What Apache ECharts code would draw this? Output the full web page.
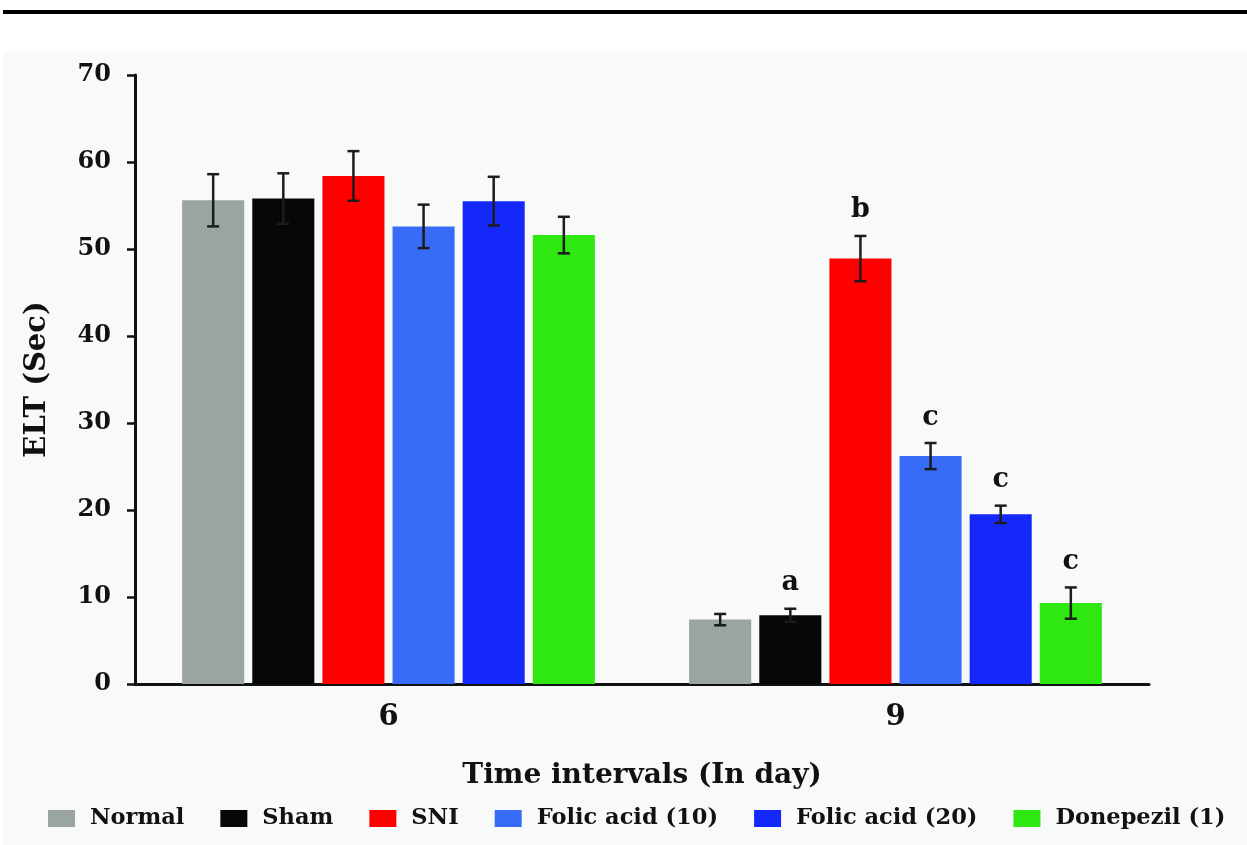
<!DOCTYPE html>
<html>
<head>
<meta charset="utf-8">
<title>ELT chart</title>
<script src="https://cdn.jsdelivr.net/npm/echarts@6/dist/echarts.min.js"></script>
<style>
  html, body { margin: 0; padding: 0; background: #ffffff; }
  #main { width: 1247px; height: 845px; }
</style>
</head>
<body>
<div id="main"></div>
<script>
// days on the x axis
var days = ['6', '9'];
var groups = ['Normal', 'Sham', 'SNI', 'Folic acid (10)', 'Folic acid (20)', 'Donepezil (1)'];
var colors = ['#9aa5a2', '#060808', '#ff0000', '#386cf8', '#1428fa', '#2fe812'];

// mean ELT (sec) per group, day 6 and day 9
var normalMean = [55.6, 7.4];
var shamMean = [55.8, 7.9];
var sniMean = [58.4, 48.9];
var fa10Mean = [52.6, 26.2];
var fa20Mean = [55.5, 19.5];
var donepezilMean = [51.6, 9.3];

// error (+/-)
var normalErr = [3.0, 0.65];
var shamErr = [2.9, 0.75];
var sniErr = [2.85, 2.6];
var fa10Err = [2.5, 1.5];
var fa20Err = [2.8, 1.0];
var donepezilErr = [2.1, 1.8];

// significance letters
var normalSig = ['', ''];
var shamSig = ['', 'a'];
var sniSig = ['', 'b'];
var fa10Sig = ['', 'c'];
var fa20Sig = ['', 'c'];
var donepezilSig = ['', 'c'];

var yTicks = [0, 10, 20, 30, 40, 50, 60, 70];

var means = [normalMean, shamMean, sniMean, fa10Mean, fa20Mean, donepezilMean];
var errs = [normalErr, shamErr, sniErr, fa10Err, fa20Err, donepezilErr];
var sigs = [normalSig, shamSig, sniSig, fa10Sig, fa20Sig, donepezilSig];

var FONT = 'DejaVu Serif';
var catGap = 0.186;
var barGap = 0.13;

var chart = echarts.init(document.getElementById('main'));

function errorRenderer(idx) {
    return function (params, api) {
        var cat = api.value(0);
        var mean = api.value(1);
        var err = api.value(2);
        var letter = sigs[idx][params.dataIndex];
        var n = groups.length;
        var band = api.size([1, 0])[0];
        var total = band * (1 - catGap);
        var w = total / (n + (n - 1) * barGap);
        var cx = api.coord([cat, 0])[0] - total / 2 + idx * w * (1 + barGap) + w / 2;
        var top = api.coord([cat, mean + err])[1];
        var bot = api.coord([cat, mean - err])[1];
        var st = { stroke: '#1c1c1c', lineWidth: 2.5 };
        var children = [
            { type: 'line', shape: { x1: cx, y1: top, x2: cx, y2: bot }, style: st },
            { type: 'line', shape: { x1: cx - 6, y1: top, x2: cx + 6, y2: top }, style: st },
            { type: 'line', shape: { x1: cx - 6, y1: bot, x2: cx + 6, y2: bot }, style: st }
        ];
        if (letter) {
            children.push({
                type: 'text',
                style: {
                    x: cx, y: top - 12, text: letter,
                    align: 'center', verticalAlign: 'bottom',
                    font: 'bold 27px "' + FONT + '"', fill: '#111'
                }
            });
        }
        return { type: 'group', children: children };
    };
}

var series = [];
for (var i = 0; i < groups.length; i++) {
    series.push({
        name: groups[i],
        type: 'bar',
        barCategoryGap: (catGap * 100) + '%',
        barGap: (barGap * 100) + '%',
        itemStyle: { color: colors[i] },
        data: means[i]
    });
}
for (var j = 0; j < groups.length; j++) {
    var d = [];
    for (var k = 0; k < days.length; k++) {
        d.push([k, means[j][k], errs[j][k]]);
    }
    series.push({
        type: 'custom',
        renderItem: errorRenderer(j),
        encode: { x: 0, y: 1 },
        z: 5,
        silent: true,
        data: d
    });
}

var option = {
    backgroundColor: '#ffffff',
    animation: false,
    textStyle: { fontFamily: FONT },
    graphic: [
        { type: 'rect', z: -10, shape: { x: 3, y: 51, width: 1244, height: 794 }, style: { fill: '#f8f9f9' } },
        { type: 'rect', shape: { x: 3, y: 10, width: 1244, height: 4 }, style: { fill: '#000' } }
    ],
    grid: { left: 135, right: 98, top: 75, bottom: 161 },
    legend: {
        data: groups,
        bottom: 10,
        left: 43,
        itemWidth: 27,
        itemHeight: 17,
        itemGap: 36,
        icon: 'rect',
        textStyle: { fontFamily: FONT, fontWeight: 'bold', fontSize: 22.5, color: '#111', padding: [0, 0, 0, 10] }
    },
    xAxis: {
        type: 'category',
        data: days,
        name: 'Time intervals (In day)',
        nameLocation: 'middle',
        nameGap: 78,
        nameTextStyle: { fontFamily: FONT, fontWeight: 'bold', fontSize: 28, color: '#111' },
        axisLine: { lineStyle: { color: '#111', width: 3 } },
        axisTick: { show: false },
        axisLabel: { margin: 19, fontFamily: FONT, fontWeight: 'bold', fontSize: 29, color: '#111' }
    },
    yAxis: {
        type: 'value',
        min: yTicks[0],
        max: yTicks[yTicks.length - 1],
        interval: 10,
        name: 'ELT (Sec)',
        nameLocation: 'middle',
        nameGap: 83,
        nameTextStyle: { fontFamily: FONT, fontWeight: 'bold', fontSize: 29, color: '#111' },
        axisLine: { show: true, lineStyle: { color: '#111', width: 3 } },
        axisTick: { show: true, length: 8, lineStyle: { width: 2.5, color: '#111' } },
        axisLabel: { margin: 24, fontFamily: FONT, fontWeight: 'bold', fontSize: 24, color: '#111' },
        splitLine: { show: false }
    },
    series: series
};
chart.setOption(option);
</script>
</body>
</html>
